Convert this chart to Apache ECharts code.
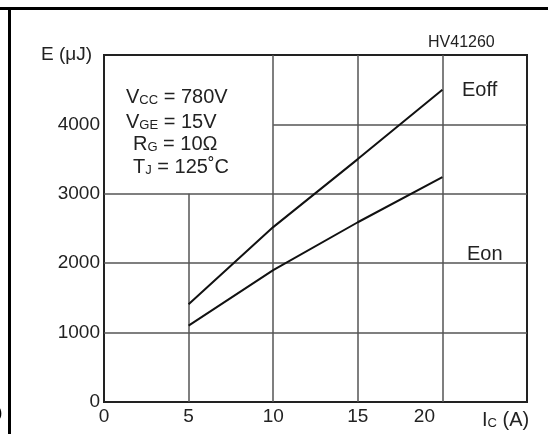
<!DOCTYPE html>
<html>
<head>
<meta charset="utf-8">
<script src="https://cdn.jsdelivr.net/npm/echarts@6/dist/echarts.min.js"></script>
<style>
html,body{margin:0;padding:0;background:#fff;}
#c{width:548px;height:434px;}
</style>
</head>
<body>
<div id="c"></div>
<script>
// ---- data ----
var icValues = [5, 10, 15, 20];
var eoffValues = [1410, 2520, 3500, 4500];
var eonValues = [1100, 1900, 2590, 3240];
var xTicks = [0, 5, 10, 15, 20];
var yTicks = [0, 1000, 2000, 3000, 4000];
var gridXs = [5, 10, 15, 20];
var gridYs = [1000, 2000, 3000, 4000];
var boxXMax = 10;   // annotation box (no grid inside): x < 10 and y > 3000
var boxYMin = 3000;
var xMax = 25, yMax = 5000;

var font = 'Liberation Sans, Arial, Helvetica, sans-serif';
var textColor = '#222';

function pairs(xs, ys) { return xs.map(function (x, i) { return [x, ys[i]]; }); }

var gridSegs = [];
gridXs.forEach(function (x) {
  gridSegs.push([{ coord: [x, 0] }, { coord: [x, x < boxXMax ? boxYMin : yMax] }]);
});
gridYs.forEach(function (y) {
  gridSegs.push([{ coord: [y > boxYMin ? boxXMax : 0, y] }, { coord: [xMax, y] }]);
});

var richSub = {
  a: { fontSize: 20, fontFamily: font, lineHeight: 20, verticalAlign: 'bottom', fill: textColor },
  s: { fontSize: 13, fontFamily: font, lineHeight: 14, verticalAlign: 'bottom', fill: textColor }
};

var chart = echarts.init(document.getElementById('c'), null, { renderer: 'canvas' });
chart.setOption({
  animation: false,
  backgroundColor: '#fff',
  grid: { left: 104, top: 55, right: 21, bottom: 32, show: true, borderColor: '#222', borderWidth: 2, backgroundColor: 'transparent' },
  xAxis: {
    type: 'value', min: 0, max: xMax, interval: 5,
    axisLine: { show: true, onZero: false, lineStyle: { color: '#222', width: 2 } },
    axisTick: { show: false },
    splitLine: { show: false },
    axisLabel: {
      margin: 5, color: textColor, fontFamily: font, fontSize: 19,
      formatter: function (v) {
        if (xTicks.indexOf(v) < 0) return '';
        if (v === 20) return '{s|' + v + '}';
        return String(v);
      },
      rich: { s: { fontSize: 19, fontFamily: font, color: textColor, padding: [0, 36, 0, 0] } }
    }
  },
  yAxis: {
    type: 'value', min: 0, max: yMax, interval: 1000,
    axisLine: { show: true, onZero: false, lineStyle: { color: '#222', width: 2 } },
    axisTick: { show: false },
    splitLine: { show: false },
    axisLabel: {
      margin: 4, color: textColor, fontFamily: font, fontSize: 19, padding: [0, 0, 5, 0],
      formatter: function (v) { return yTicks.indexOf(v) >= 0 ? String(v) : ''; }
    }
  },
  series: [
    {
      name: 'grid', type: 'line', data: [], silent: true,
      markLine: {
        silent: true, symbol: ['none', 'none'], animation: false,
        label: { show: false },
        lineStyle: { color: '#555', width: 1.5, type: 'solid' },
        data: gridSegs
      }
    },
    {
      name: 'Eoff', type: 'line', data: pairs(icValues, eoffValues), showSymbol: false, symbol: 'none',
      lineStyle: { color: '#111', width: 2 }, z: 5
    },
    {
      name: 'Eon', type: 'line', data: pairs(icValues, eonValues), showSymbol: false, symbol: 'none',
      lineStyle: { color: '#111', width: 2 }, z: 5
    }
  ],
  graphic: [
    { type: 'line', shape: { x1: 0, y1: 8.5, x2: 548, y2: 8.5 }, style: { stroke: '#000', lineWidth: 3 } },
    { type: 'line', shape: { x1: 9.5, y1: 8, x2: 9.5, y2: 434 }, style: { stroke: '#000', lineWidth: 3 } },
    { type: 'text', left: -3, top: 406, style: { text: ')', font: '16px ' + font, fill: '#000' } },
    { type: 'text', left: 41, top: 45, style: { text: 'E (μJ)', font: '19px ' + font, fill: textColor } },
    { type: 'text', left: 428, top: 35, style: { text: 'HV41260', font: '16px ' + font, fill: textColor } },
    { type: 'text', left: 462, top: 80, style: { text: 'Eoff', font: '20px ' + font, fill: textColor } },
    { type: 'text', left: 467, top: 244, style: { text: 'Eon', font: '20px ' + font, fill: textColor } },
    { type: 'text', left: 482, top: 410, style: { text: '{a|I}{s|C}{a| (A)}', fill: textColor, rich: richSub } },
    { type: 'text', left: 126, top: 87, style: { text: '{a|V}{s|CC}{a| = 780V}', fill: textColor, rich: richSub } },
    { type: 'text', left: 126, top: 112, style: { text: '{a|V}{s|GE}{a| = 15V}', fill: textColor, rich: richSub } },
    { type: 'text', left: 133, top: 134, style: { text: '{a|R}{s|G}{a| = 10Ω}', fill: textColor, rich: richSub } },
    { type: 'text', left: 133, top: 157, style: { text: '{a|T}{s|J}{a| = 125˚C}', fill: textColor, rich: richSub } }
  ]
});
</script>
</body>
</html>
